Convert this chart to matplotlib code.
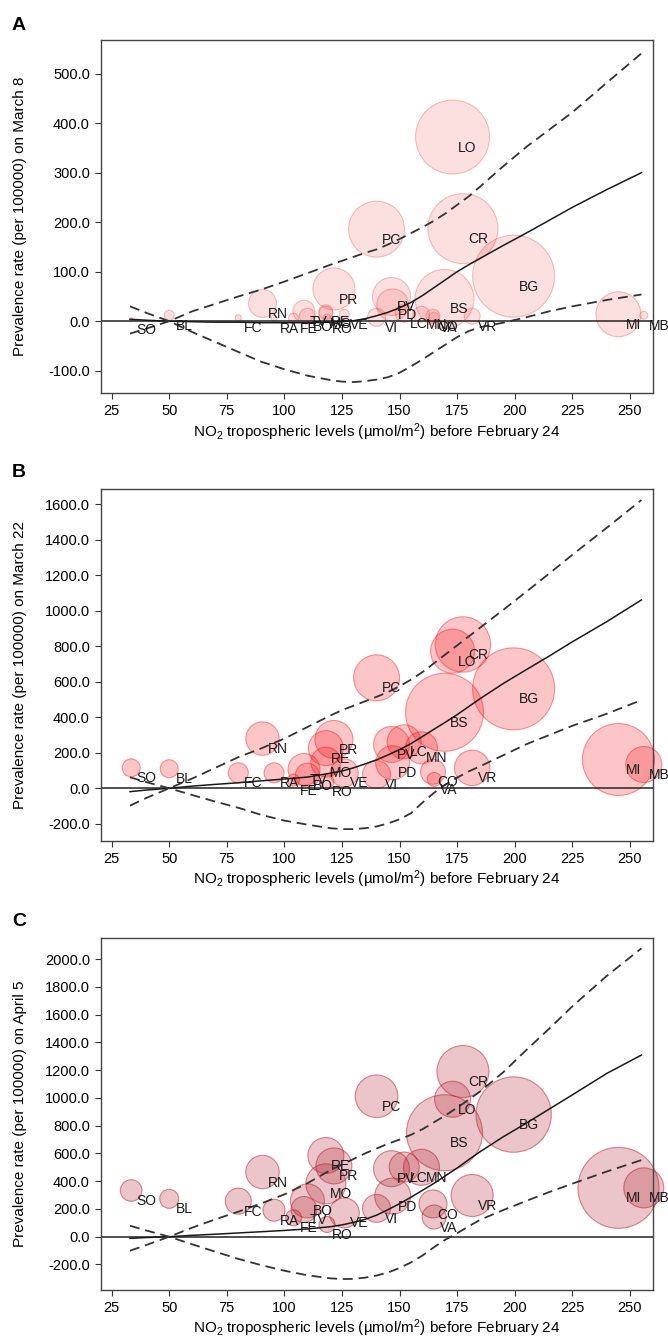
import matplotlib
matplotlib.use("Agg")
import matplotlib.pyplot as plt
from matplotlib.colors import to_rgba

plt.rcParams['font.family'] = ['Liberation Sans', 'DejaVu Sans']
plt.rcParams['mathtext.fontset'] = 'custom'
plt.rcParams['mathtext.rm'] = 'Liberation Sans'
plt.rcParams['mathtext.it'] = 'Liberation Sans:italic'

# provinces and NO2 tropospheric level before Feb 24
provinces = ["SO", "BL", "FC", "RN", "RA", "FE", "TV", "BO", "RO", "MO", "RE", "PR", "VE", "VI",
             "PC", "PV", "PD", "LC", "MN", "CO", "VA", "LO", "CR", "BS", "VR", "BG", "MI", "MB"]
no2 = [33.5, 50, 80, 90.5, 95.5, 104, 108.5, 110, 118.5, 118, 118, 121.5, 126, 140,
       140, 146.5, 147, 152, 159.5, 164.5, 165, 173, 177.5, 169.5, 181.5, 199.5, 245, 256]

# prevalence rate (per 100000)
prev_mar8 = [3, 12, 7, 36, 6, 6, 20, 10, 6, 16, 19, 65, 14, 8,
             186, 50, 33, 16, 14, 10, 8, 372, 187, 45, 10, 91, 14, 12]
prev_mar22 = [115, 110, 87, 280, 87, 46, 106, 74, 37, 147, 226, 275, 87, 78,
              622, 247, 144, 262, 228, 93, 50, 772, 810, 428, 115, 560, 162, 134]
prev_apr5 = [333, 273, 256, 466, 191, 136, 196, 258, 88, 381, 585, 510, 172, 204,
             1012, 490, 293, 502, 500, 236, 142, 990, 1190, 749, 297, 880, 352, 352]

# bubble weights (relative area)
w_mar8 = [4, 25, 9, 196, 9, 25, 121, 64, 16, 49, 49, 441, 25, 81,
          784, 361, 256, 81, 64, 49, 25, 1369, 1225, 870, 64, 1681, 506, 16]
w_mar22 = [81, 81, 100, 279, 100, 36, 256, 144, 49, 225, 306, 361, 196, 196,
           529, 324, 289, 289, 256, 156, 49, 484, 767, 1521, 313, 1681, 1296, 324]
w_apr5 = [117, 90, 169, 279, 121, 64, 169, 289, 64, 400, 324, 324, 225, 196,
          454, 324, 324, 225, 324, 196, 144, 324, 676, 1444, 441, 1421, 1640, 400]

# fitted curve and confidence band
fit_x = [33, 40, 50, 60, 70, 80, 90, 100, 110, 120, 125, 130, 135, 140, 145, 150, 155, 160,
         165, 170, 175, 180, 185, 195, 205, 215, 225, 240, 255]
fit_mar8 = [4, 2, 0, -1, -2, -2, -3, -3, -3, -2, -1, 1, 5, 11, 18, 27, 38, 52,
            68, 84, 100, 114, 127, 153, 178, 204, 230, 266, 300]
up_mar8 = [-25, -15, 0, 20, 35, 50, 64, 80, 97, 114, 122, 130, 138, 145, 155, 166, 178, 190,
           203, 218, 235, 252, 272, 313, 352, 387, 422, 482, 541]
lo_mar8 = [30, 17, 0, -22, -42, -62, -82, -97, -110, -119, -122, -123, -121, -118, -113, -104, -91, -77,
           -62, -47, -32, -20, -12, -3, 8, 20, 30, 43, 54]
fit_mar22 = [-19, -10, 0, 12, 22, 31, 42, 52, 63, 85, 97, 115, 137, 160, 188, 218, 252, 292,
             333, 373, 415, 460, 505, 590, 668, 745, 825, 939, 1061]
up_mar22 = [-98, -55, 0, 55, 115, 175, 225, 280, 345, 410, 440, 465, 490, 515, 542, 575, 612, 655,
            705, 755, 805, 855, 905, 1005, 1107, 1210, 1315, 1468, 1624]
lo_mar22 = [62, 35, 0, -38, -75, -110, -150, -182, -205, -225, -230, -230, -225, -215, -198, -175, -140, -80,
            -25, 22, 60, 95, 124, 186, 248, 300, 352, 420, 497]
fit_apr5 = [-12, -6, 0, 10, 18, 27, 36, 45, 56, 72, 85, 103, 125, 155, 195, 238, 285, 335,
            385, 440, 495, 555, 613, 720, 818, 920, 1022, 1177, 1309]
up_apr5 = [-101, -60, 0, 65, 125, 180, 240, 305, 385, 480, 520, 560, 600, 635, 670, 700, 735, 775,
           825, 875, 930, 987, 1047, 1185, 1345, 1500, 1660, 1880, 2078]
lo_apr5 = [79, 45, 0, -55, -108, -160, -205, -245, -278, -300, -305, -304, -295, -280, -258, -225, -185, -135,
           -75, -20, 25, 75, 122, 192, 258, 322, 382, 470, 552]

xticks = list(range(25, 251, 25))
xlabel = r'NO$_2$ tropospheric levels (µmol/m$^2$) before February 24'

DPI = 100
fig = plt.figure(figsize=(6.68, 13.39), dpi=DPI)


def draw_panel(rect, letter, letter_y, prev, weights, fit, up, lo, ylim, yticks, ylabel,
               color, face_alpha, edge_alpha):
    ax = fig.add_axes(rect)
    px_to_pt = 72.0 / DPI
    sizes = [(2 * px_to_pt) ** 2 * w for w in weights]
    ax.scatter(no2, prev, s=sizes, facecolor=to_rgba(color, face_alpha),
               edgecolor=to_rgba(color, edge_alpha), linewidth=0.8, zorder=1, clip_on=False)
    ax.axhline(0, color='#333333', lw=1.2, zorder=2)
    ax.plot(fit_x, fit, color='#1a1a1a', lw=1.1, zorder=3)
    for band in (up, lo):
        ax.plot(fit_x, band, color='#333333', lw=1.3, dashes=(5.5, 3.2), zorder=3)
    for name, x, y in zip(provinces, no2, prev):
        ax.annotate(name, (x, y), xytext=(10.8, -7.6), textcoords='offset points',
                    ha='center', va='center', fontsize=10, color='#1a1a1a',
                    annotation_clip=False, zorder=4)
    ax.set_xlim(20.4, 260)
    ax.set_ylim(*ylim)
    ax.set_xticks(xticks)
    ax.set_yticks(yticks)
    ax.set_yticklabels([f'{v:.1f}' for v in yticks])
    ax.tick_params(direction='out', length=4, width=0.8, pad=4, labelsize=10.5,
                   color='#333333')
    for sp in ax.spines.values():
        sp.set_color('#444444')
        sp.set_linewidth(1.0)
    ax.set_ylabel(ylabel, fontsize=11)
    ax.yaxis.set_label_coords(-0.134, 0.5)
    ax.set_xlabel(xlabel, fontsize=11)
    ax.xaxis.label.set_va('center')
    ax.xaxis.set_label_coords(0.5, -0.11)
    fig.text(19 / 668, 1 - letter_y / 1339, letter, fontsize=14, fontweight='bold',
             ha='center', va='center')
    return ax


left, width = 101 / 668, 552 / 668
draw_panel([left, 1 - 393 / 1339, width, 353 / 1339], 'A', 25,
           prev_mar8, w_mar8, fit_mar8, up_mar8, lo_mar8, (-145, 568),
           list(range(-100, 501, 100)), 'Prevalence rate (per 100000) on March 8',
           '#f03030', 0.15, 0.3)
draw_panel([left, 1 - 841 / 1339, width, 351.7 / 1339], 'B', 473,
           prev_mar22, w_mar22, fit_mar22, up_mar22, lo_mar22, (-297, 1684),
           list(range(-200, 1601, 200)), 'Prevalence rate (per 100000) on March 22',
           '#f6070f', 0.23, 0.4)
draw_panel([left, 1 - 1290 / 1339, width, 351.7 / 1339], 'C', 922,
           prev_apr5, w_apr5, fit_apr5, up_apr5, lo_apr5, (-384, 2150),
           list(range(-200, 2001, 200)), 'Prevalence rate (per 100000) on April 5',
           '#b31b2b', 0.25, 0.5)

fig.savefig('out.png', dpi=DPI)
